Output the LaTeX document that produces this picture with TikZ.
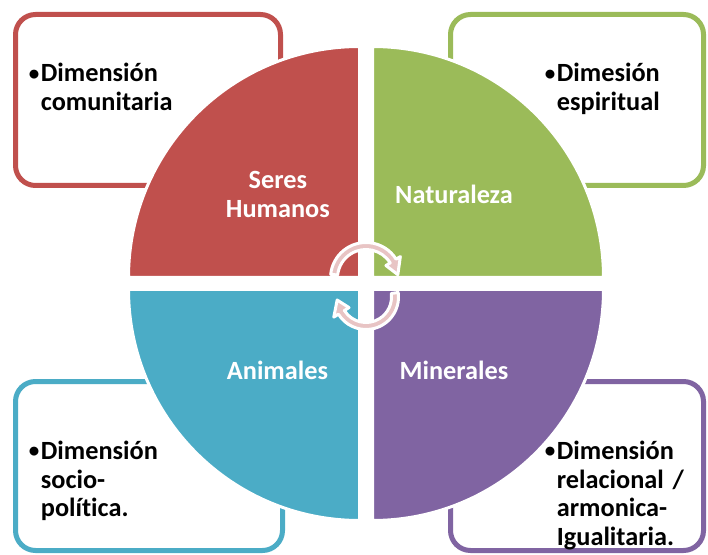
\documentclass[tikz,border=0pt]{standalone}
\usepackage{graphicx}
\usepackage{fontspec}
\setmainfont[Ligatures=NoCommon]{Carlito}
\definecolor{cred}{HTML}{C0504D}
\definecolor{cgreen}{HTML}{9BBB59}
\definecolor{cblue}{HTML}{4BACC6}
\definecolor{cpurple}{HTML}{8064A2}
\definecolor{cpink}{RGB}{232,196,196}
\newcommand{\bul}{\llap{\raisebox{1.5pt}{\scalebox{0.8}{•}}\kern1.5pt}}
\tikzset{
  boxsty/.style={line width=5pt, fill=white, rounded corners=20pt},
  quadsty/.style={draw=white, line width=3pt},
  arrowsty/.style={fill=cpink, draw=white, line width=3pt, line join=round},
  boxtext/.style={anchor=base west, inner sep=0pt, text width=220pt, align=left,
    font=\fontsize{26.3}{28.7}\selectfont\bfseries, text=black},
  quadtext/.style={anchor=base, inner sep=0pt, text width=160pt, align=center,
    font=\fontsize{26.3}{29}\selectfont\bfseries, text=white}
}
\begin{document}
\begin{tikzpicture}[x=1pt,y=1pt]
\useasboundingbox (0,0) rectangle (708,554);
% boxes
\draw[boxsty, draw=cred] (15.5,539.5) rectangle (280.5,368.5);
\draw[boxsty, draw=cgreen] (450.5,539.5) rectangle (703.5,368.5);
\draw[boxsty, draw=cblue] (15.5,172.5) rectangle (282.5,3.5);
\draw[boxsty, draw=cpurple] (450.5,172.5) rectangle (703.5,3.5);
% quadrants
\filldraw[quadsty, fill=cred] (359.5,276.5) -- ++(-231,0) arc[start angle=180,end angle=90,radius=231] -- cycle;
\filldraw[quadsty, fill=cgreen] (372.5,276.5) -- ++(0,231) arc[start angle=90,end angle=0,radius=231] -- cycle;
\filldraw[quadsty, fill=cblue] (359.5,264.5) -- ++(0,-231) arc[start angle=270,end angle=180,radius=231] -- cycle;
\filldraw[quadsty, fill=cpurple] (372.5,264.5) -- ++(231,0) arc[start angle=0,end angle=-90,radius=231] -- cycle;
% center arrows
\begin{scope}[shift={(366,276)}]
\filldraw[arrowsty] (174:35.5) arc[start angle=174,end angle=32,radius=35.5] -- (32:40.5) -- (6:32) -- (32:23.5) -- (32:28.5) arc[start angle=32,end angle=174,radius=28.5] -- cycle;
\end{scope}
\begin{scope}[shift={(366,257)}]
\filldraw[arrowsty] (8:32.5) arc[start angle=8,end angle=-148,radius=32.5] -- (-148:38) -- (-174:29) -- (-148:20) -- (-148:25.5) arc[start angle=-148,end angle=8,radius=25.5] -- cycle;
\end{scope}
% quadrant labels
\node[quadtext] (sh) at (277.9,365.7) {Seres\\Humanos};
\node[quadtext] (nat) at (454,350.7) {Naturaleza};
\node[quadtext] (ani) at (277.5,174.7) {Animales};
\node[quadtext] (min) at (454,174.7) {Minerales};
% box texts
\node[boxtext] (t1) at (40.7,472) {\bul Dimensión\\comunitaria};
\node[boxtext] (t2) at (556.7,472) {\bul Dimesión\\espiritual};
\node[boxtext] (t3) at (40.7,94.7) {\bul Dimensión\\socio-\\política.};
\node[boxtext] (t4) at (556.7,94.7) {\bul Dimensión\\relacional /\\armonica-\\Igualitaria.};
\end{tikzpicture}
\end{document}
